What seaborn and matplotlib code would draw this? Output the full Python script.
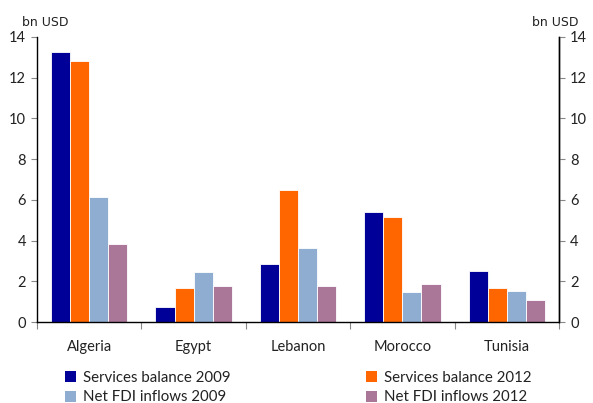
import matplotlib
matplotlib.use("Agg")
import matplotlib.pyplot as plt
import seaborn as sns
import pandas as pd
from matplotlib.patches import Patch

countries = ["Algeria", "Egypt", "Lebanon", "Morocco", "Tunisia"]
series = ["Services balance 2009", "Services balance 2012", "Net FDI inflows 2009", "Net FDI inflows 2012"]
sb_2009 = [13.25, 0.72, 2.86, 5.42, 2.50]
sb_2012 = [12.82, 1.65, 6.48, 5.14, 1.67]
fdi_2009 = [6.12, 2.45, 3.65, 1.46, 1.51]
fdi_2012 = [3.85, 1.75, 1.77, 1.87, 1.08]
colors = ["#000099", "#FF6600", "#8EADD0", "#AA7799"]
y_ticks = [0, 2, 4, 6, 8, 10, 12, 14]

rows = []
for s, vals in zip(series, [sb_2009, sb_2012, fdi_2009, fdi_2012]):
    for c, v in zip(countries, vals):
        rows.append({"country": c, "series": s, "value": v})
df = pd.DataFrame(rows)

sns.set_theme(style="white")
plt.rcParams["font.family"] = ["Lato", "DejaVu Sans"]

fig = plt.figure(figsize=(5.93, 4.03), dpi=100)
ax = fig.add_axes([37/593, 1-322/403, (559-37)/593, (322-37)/403])

sns.barplot(data=df, x="country", y="value", hue="series", order=countries,
            hue_order=series, palette=colors, width=0.73, dodge=True,
            saturation=1, edgecolor="white", linewidth=0.6, ax=ax, legend=False)

ax.set_xlim(-0.5, len(countries) - 0.5)
ax.set_ylim(0, 14)
ax.set_yticks(y_ticks)
ax.set_yticklabels([str(t) for t in y_ticks], fontsize=10.5, color="#222222")
ax.set_xlabel("")
ax.set_ylabel("")

# x ticks at group boundaries, labels at centres
ax.set_xticks([i - 0.5 for i in range(len(countries) + 1)])
ax.set_xticklabels([])
ax.set_xticks(range(len(countries)), minor=True)
ax.set_xticklabels(countries, minor=True, fontsize=10.5, color="#222222")
ax.tick_params(axis="x", which="major", direction="out", length=5, width=0.8, color="#888888", bottom=True)
ax.tick_params(axis="x", which="minor", length=0, pad=13)
ax.tick_params(axis="y", direction="out", length=4, width=0.8, color="#888888", left=True, pad=4)

for side in ["top"]:
    ax.spines[side].set_visible(False)
for side in ["left", "bottom", "right"]:
    ax.spines[side].set_visible(True)
    ax.spines[side].set_color("black")
    ax.spines[side].set_linewidth(1.0)

ax2 = ax.twinx()
ax2.set_ylim(0, 14)
ax2.set_yticks(y_ticks)
ax2.set_yticklabels([str(t) for t in y_ticks], fontsize=10.5, color="#222222")
ax2.tick_params(axis="y", direction="out", length=4, width=0.8, color="#888888", right=True, pad=4)
for side in ["top", "left", "bottom"]:
    ax2.spines[side].set_visible(False)
ax2.spines["right"].set_color("black")
ax2.spines["right"].set_linewidth(1.0)

fig.text(22/593, 1-22/403, "bn USD", fontsize=9, family="DejaVu Sans", color="#222222", va="center", ha="left")
fig.text(578/593, 1-22/403, "bn USD", fontsize=9, family="DejaVu Sans", color="#222222", va="center", ha="right")

handles = [Patch(facecolor=c, edgecolor="none") for c in colors]
order = [0, 2, 1, 3]
leg = fig.legend([handles[i] for i in order], [series[i] for i in order], ncol=2,
                 loc="upper left", bbox_to_anchor=(65/593, 1-371/403), frameon=False,
                 fontsize=10.8, handlelength=0.75, handleheight=0.75, handletextpad=0.45,
                 columnspacing=9.0, labelspacing=0.35, borderaxespad=0, borderpad=0)
for t in leg.get_texts():
    t.set_color("#222222")

fig.savefig("out.png", dpi=100)
